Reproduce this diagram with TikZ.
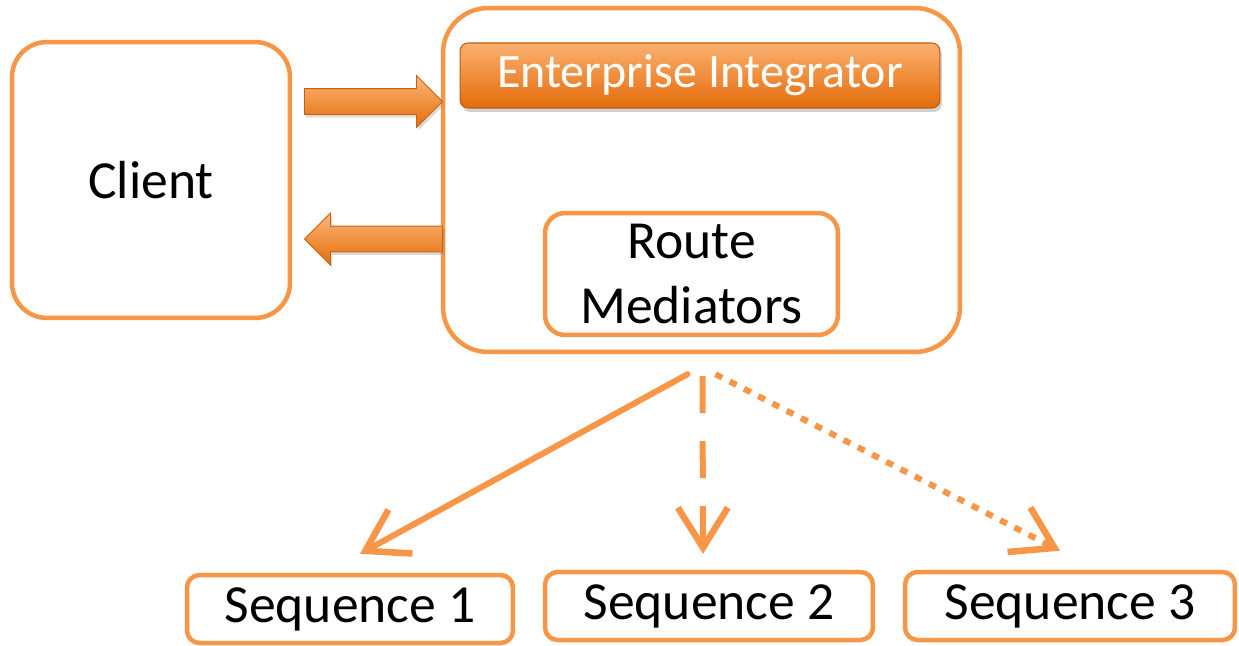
\documentclass[tikz,border=0pt]{standalone}
\usepackage{fontspec}
\setmainfont{Carlito}
\usetikzlibrary{positioning,arrows.meta,calc,shapes.arrows,shadows}
\definecolor{boxorange}{HTML}{F79646}
\definecolor{darkorange}{HTML}{E46C0A}
\definecolor{lightorange}{HTML}{FBB77A}

\begin{document}
\begin{tikzpicture}[x=0.02cm,y=-0.02cm,
 box/.style={draw=boxorange,line width=0.09cm,fill=white,align=center,
   font=\fontsize{30.5}{36.5}\selectfont},
 bar/.style={rounded corners=0.16cm,draw=darkorange!85!black,line width=0.6pt,
   top color=lightorange!80!boxorange,bottom color=darkorange,text=white,
   font=\fontsize{27.3}{32}\selectfont,
   drop shadow={shadow xshift=0.04cm,shadow yshift=-0.08cm,opacity=0.35}},
 fat/.style={single arrow,inner sep=0pt,text height=0.25cm,text depth=0.25cm,
   minimum height=2.76cm,minimum width=1.02cm,
   single arrow head extend=0.26cm,draw=darkorange!90!black,line width=0.5pt,
   top color=lightorange,bottom color=darkorange,
   drop shadow={shadow xshift=0.04cm,shadow yshift=-0.06cm,opacity=0.3}},
 link/.style={draw=boxorange,line width=0.12cm,
   -{Straight Barb[length=0.8cm,width=1cm,line width=0.13cm]}}]
\useasboundingbox (0,0) rectangle (1239,645);
% main boxes
\node[box,rounded corners=0.7cm,minimum width=5.56cm,minimum height=5.52cm]
  (client) at (151,180) {Client};
\node[box,rounded corners=0.9cm,minimum width=10.34cm,minimum height=6.88cm]
  (ei) at (701.5,180) {};
\node[bar,minimum width=9.6cm,minimum height=1.3cm] (eibar) at (700,75.5) {Enterprise Integrator};
\node[box,rounded corners=0.4cm,minimum width=5.86cm,minimum height=2.44cm]
  (route) at (691.5,274) {Route\\Mediators};
% request and response
\node[fat] (request) at (367,101.5) {};
\node[fat,shape border rotate=180] (response) at (380,239) {};
% sequences
\foreach \nm/\x/\y/\w/\lbl in {seqa/350/609/6.52/{Sequence 1},
                               seqb/709/606/6.56/{Sequence 2},
                               seqc/1070/606/6.60/{Sequence 3}}{
  \node[box,rounded corners=0.25cm,minimum width=\w cm,minimum height=1.36cm]
    (\nm) at (\x,\y) {\lbl};
}
\coordinate (forka) at ([shift={(-14,20)}]ei.south);
\coordinate (forkb) at ([shift={(1,22)}]ei.south);
\coordinate (forkc) at ([shift={(14,20)}]ei.south);
\draw[link,line cap=round] (forka) -- ([shift={(10,-19)}]seqa.north);
\draw[link,dash pattern=on 0.74cm off 0.56cm] (forkb) -- ([shift={(-6,-16)}]seqb.north);
\draw[link,dash pattern=on 0.15cm off 0.17cm] (forkc) -- ([shift={(-10,-19)}]seqc.north);
\end{tikzpicture}
\end{document}
